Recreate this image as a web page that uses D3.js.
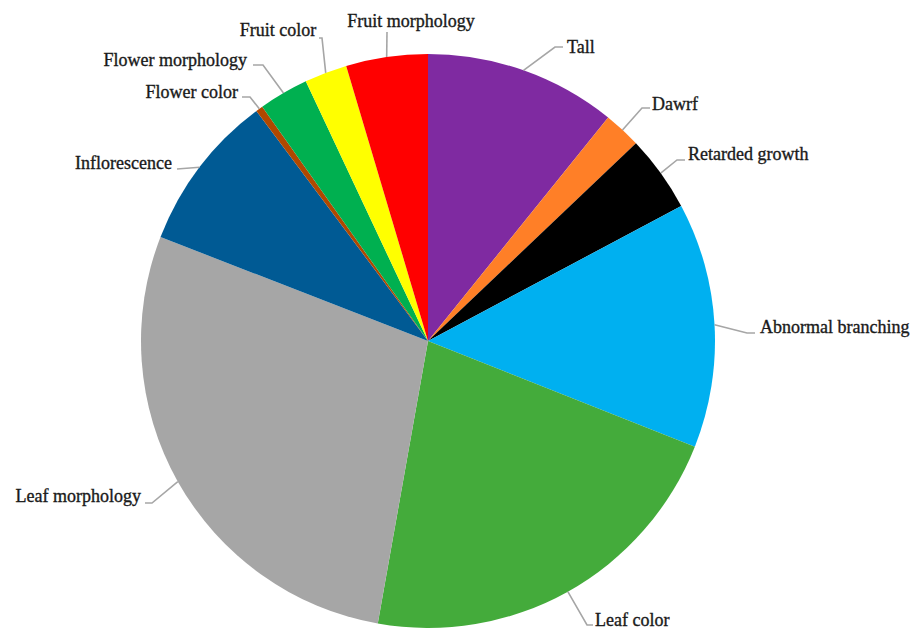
<!DOCTYPE html>
<html><head><meta charset="utf-8">
<script src="https://cdn.jsdelivr.net/npm/d3@7/dist/d3.min.js"></script>
<style>html,body{margin:0;padding:0;background:#fff;}svg{display:block;}</style>
</head><body>
<svg id="chart" width="910" height="629"></svg>
<script>
// Data (percent of traits)
const categories = ["Tall","Dawrf","Retarded growth","Abnormal branching","Leaf color","Leaf morphology","Inflorescence","Flower color","Flower morphology","Fruit color","Fruit morphology"];
const values = [10.8, 2.1, 4.3, 13.8, 21.8, 28.1, 8.9, 0.4, 2.8, 2.4, 4.6];
const colors = ["#7F2AA1","#FF7F27","#000000","#00B0F0","#44AB3B","#A6A6A6","#005A94","#B04800","#00B050","#FFFF00","#FF0000"];

// Label layout: elbow points of leader lines and text anchor positions
const labelLayout = [
  {elbow:[[555,47],[563,47]], tx:567, ty:47, anchor:"start"},
  {elbow:[[642,108],[650,108]], tx:652, ty:104, anchor:"start"},
  {elbow:[[677,160],[685,160]], tx:688, ty:154, anchor:"start"},
  {elbow:[[747,333],[755,333]], tx:760, ty:327, anchor:"start"},
  {elbow:[[587,625],[593,625]], tx:595, ty:620, anchor:"start"},
  {elbow:[[152,503],[145,503]], tx:141, ty:496, anchor:"end"},
  {elbow:[[177,169]], tx:172, ty:163, anchor:"end"},
  {elbow:[[250,97],[242,97]], tx:238, ty:92, anchor:"end"},
  {elbow:[[263,65],[253,65]], tx:247, ty:60, anchor:"end"},
  {elbow:[[322,38],[319,38]], tx:278, ty:30, anchor:"middle"},
  {elbow:[[387,32]], tx:411, ty:21, anchor:"middle"}
];

const cx = 428, cy = 341, R = 287;
const svg = d3.select("#chart");
const g = svg.append("g").attr("transform", `translate(${cx},${cy})`);

const pie = d3.pie().sort(null).value(d => d)(values);
const arc = d3.arc().innerRadius(0).outerRadius(R);

g.selectAll("path.slice").data(pie).enter().append("path")
  .attr("class","slice")
  .attr("d", arc)
  .attr("fill", (d,i) => colors[i]);

// Leader lines
const line = d3.line();
pie.forEach((d,i) => {
  const a = (d.startAngle + d.endAngle)/2;
  const start = [cx + R*Math.sin(a), cy - R*Math.cos(a)];
  const pts = [start].concat(labelLayout[i].elbow);
  svg.append("path")
    .attr("d", line(pts))
    .attr("fill","none")
    .attr("stroke","#A6A6A6")
    .attr("stroke-width",1.6);
});

// Labels
svg.selectAll("text.lbl").data(categories).enter().append("text")
  .attr("class","lbl")
  .attr("x",(d,i)=>labelLayout[i].tx)
  .attr("y",(d,i)=>labelLayout[i].ty)
  .attr("dy","0.35em")
  .attr("text-anchor",(d,i)=>labelLayout[i].anchor)
  .attr("font-family","'Liberation Serif','Times New Roman',serif")
  .attr("font-size","18px")
  .attr("fill","#1a1a1a")
  .attr("stroke","#1a1a1a")
  .attr("stroke-width",0.35)
  .text(d=>d);
</script>
</body></html>
